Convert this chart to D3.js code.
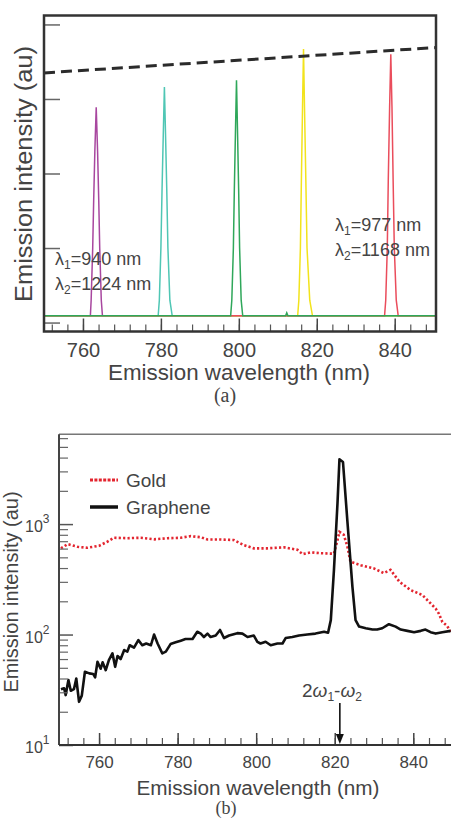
<!DOCTYPE html>
<html>
<head>
<meta charset="utf-8">
<script src="https://cdn.jsdelivr.net/npm/d3@7"></script>
<style>
  body { margin: 0; background: #fff; }
  text { font-family: "Liberation Sans", Arial, sans-serif; fill: #444; }
</style>
</head>
<body>
<div id="chart"></div>
<script>
// ---------- panel (a) data: [wavelength nm, intensity au] ----------
const aPurple = [[750, 0.09], [761.9, 0.09], [762.1, 0.3], [762.5, 1.0], [762.75, 1.64], [763.05, 2.3], [763.4, 2.89],
  [763.75, 2.3], [764.05, 1.64], [764.3, 1.0], [764.7, 0.3], [765.0, 0.09], [850.6, 0.09]];
const aTeal = [[750, 0.09], [779.3, 0.09], [779.6, 0.3], [780.0, 1.0], [780.3, 1.8], [780.6, 2.5], [780.9, 3.16],
  [781.2, 2.5], [781.5, 1.8], [781.8, 1.0], [782.3, 0.3], [782.9, 0.09], [850.6, 0.09]];
const aYellow = [[750, 0.09], [815.1, 0.09], [815.4, 0.3], [815.8, 1.0], [816.05, 1.9], [816.35, 2.9], [816.6, 3.67],
  [816.85, 2.9], [817.2, 1.9], [817.5, 1.0], [818.2, 0.3], [818.9, 0.09], [850.6, 0.09]];
const aRed = [[750, 0.09], [837.4, 0.09], [837.7, 0.3], [838.1, 1.0], [838.35, 1.9], [838.7, 2.9], [839.0, 3.6],
  [839.3, 2.9], [839.6, 1.9], [839.9, 1.0], [840.4, 0.3], [840.9, 0.09], [850.6, 0.09]];
const aGreen = [[750, 0.09], [797.9, 0.09], [798.2, 0.3], [798.6, 1.0], [798.85, 1.8], [799.15, 2.6], [799.4, 3.25],
  [799.65, 2.6], [799.95, 1.8], [800.2, 1.0], [800.6, 0.3], [801.0, 0.09], [812.0, 0.09], [812.3, 0.13],
  [812.6, 0.09], [850.6, 0.09]];
const aEnvelope = [[750, 3.35], [850.6, 3.69]];
const aXTicks = [760, 780, 800, 820, 840];
const aYTicks = [0, 1, 2, 3, 4];

// ---------- panel (b) data ----------
const bGraphene = [[750.3, 31.9], [751.1, 32.6], [751.5, 28.3], [752.2, 38.7], [752.8, 31], [753.6, 32], [754.2, 40],
  [754.9, 24.6], [755.6, 28], [756.4, 46], [757.5, 44.5], [758.5, 44], [759, 41], [759.6, 56.7], [760.4, 49],
  [760.9, 56], [761.7, 47.6], [762.5, 58.7], [763.4, 67.6], [764.1, 51], [764.7, 64], [765.5, 60], [766.4, 72.4],
  [767.2, 70], [767.8, 80], [768.9, 76], [770, 89], [771, 80], [772, 83], [773.2, 80], [774, 100], [774.9, 83],
  [776.1, 67.6], [777, 70], [778.2, 82], [779.5, 85], [780.8, 88], [782, 91], [783.8, 91], [785, 106], [785.9, 102],
  [786.7, 95], [787.6, 102], [788.4, 95], [789.7, 98], [790.8, 110], [791.8, 93], [793.1, 98], [795.2, 103],
  [796.5, 102], [797.8, 95], [799.4, 98], [800.3, 86], [801.1, 83], [802.4, 86], [803.7, 80], [805.4, 83],
  [806.7, 83], [807.5, 93], [809.2, 95], [810.9, 98], [813, 100], [815.1, 102], [817.3, 106], [818.3, 104],
  [819, 135], [819.8, 384], [820.7, 1540], [821.2, 3850], [822.1, 3650], [823.2, 1087], [824.5, 271], [825.3, 135],
  [826.2, 118], [827.9, 114], [829.6, 111], [830.8, 111], [832.1, 114], [833.8, 124], [835.5, 118], [836.8, 111],
  [838.5, 108], [840.2, 105], [841.9, 108], [843.1, 111], [844.4, 105], [845.7, 102], [847.4, 105], [849.5, 108]];
const bGold = [[750.3, 603], [752, 659], [754.5, 623], [757, 610], [760, 636], [762.1, 692], [763.8, 752],
  [767.2, 745], [770.6, 752], [774, 728], [777.4, 745], [780.8, 752], [783.3, 778], [785.9, 760], [787.6, 725],
  [791, 725], [794.3, 718], [796.9, 645], [799.4, 603], [802.8, 603], [807.1, 616], [810.5, 585], [811.8, 535],
  [813.9, 555], [816.4, 545], [819, 540], [819.8, 540], [820.7, 716], [821.2, 851], [822.3, 800], [823.2, 630],
  [824, 456], [826.6, 425], [830, 396], [832.5, 360], [834.2, 385], [836.5, 300], [839.3, 253], [842.3, 228],
  [844, 198], [845.7, 172], [846.5, 155], [847.4, 130], [848.6, 120], [849.5, 106]];
const bXTicks = [760, 780, 800, 820, 840];
const bYMajor = [10, 100, 1000];
const bYMinor = [20, 30, 40, 50, 60, 70, 80, 90, 200, 300, 400, 500, 600, 700, 800, 900, 2000, 3000, 4000, 5000, 6000];
const bMarker = 821.3;

const minorX = d3.range(752, 851, 4);

const svg = d3.select("#chart").append("svg")
  .attr("width", 451).attr("height", 820);

// ================= panel (a) =================
const xa = d3.scaleLinear().domain([750, 850.6]).range([44, 436]);
const ya = d3.scaleLinear().domain([-0.12, 4.12]).range([331.5, 15.5]);

const ga = svg.append("g");
const lineA = d3.line().x(d => xa(d[0])).y(d => ya(d[1]));

const aSeries = [
  { data: aPurple, color: "#a8479f" },
  { data: aTeal, color: "#4fc6b4" },
  { data: aYellow, color: "#f2e31c" },
  { data: aRed, color: "#ea4d5c" },
  { data: aGreen, color: "#2fa75a" }
];
aSeries.forEach(s => {
  ga.append("path").datum(s.data).attr("d", lineA)
    .attr("fill", "none").attr("stroke", s.color).attr("stroke-width", 1.5);
});

ga.append("path").datum(aEnvelope).attr("d", lineA)
  .attr("fill", "none").attr("stroke", "#2b2b2b").attr("stroke-width", 3)
  .attr("stroke-dasharray", "11,6");

// bottom ticks (inward)
ga.append("g").attr("transform", "translate(0,331.5)")
  .call(d3.axisBottom(xa).tickValues(minorX).tickSize(-7).tickFormat(""))
  .call(g => g.select(".domain").remove())
  .call(g => g.selectAll("line").attr("stroke", "#555").attr("stroke-width", 1.2));
ga.append("g").attr("transform", "translate(0,331.5)")
  .call(d3.axisBottom(xa).tickValues(aXTicks).tickSize(-13))
  .call(g => g.select(".domain").remove())
  .call(g => g.selectAll("line").attr("stroke", "#444").attr("stroke-width", 1.5))
  .call(g => g.selectAll("text").attr("y", 25).attr("dy", 0).attr("font-size", 20)
    .style("font-family", "Liberation Sans, Arial, sans-serif").attr("fill", "#444"));

// left ticks (inward, no labels)
ga.append("g").attr("transform", "translate(44,0)")
  .call(d3.axisLeft(ya).tickValues(aYTicks).tickSize(-16).tickFormat(""))
  .call(g => g.select(".domain").remove())
  .call(g => g.selectAll("line").attr("stroke", "#666").attr("stroke-width", 1.5));

ga.append("rect").attr("x", 44).attr("y", 15.5).attr("width", 392).attr("height", 316)
  .attr("fill", "none").attr("stroke", "#333").attr("stroke-width", 2.5);

function lambdaLabel(g, x, y, sub, rest) {
  const t = g.append("text").attr("x", x).attr("y", y).attr("font-size", 18).attr("fill", "#555");
  t.append("tspan").text("λ");
  t.append("tspan").attr("font-size", 12).attr("dy", 4).text(sub);
  t.append("tspan").attr("dy", -4).text(rest);
}
lambdaLabel(ga, 55, 265, "1", "=940 nm");
lambdaLabel(ga, 55, 290, "2", "=1224 nm");
lambdaLabel(ga, 335, 231, "1", "=977 nm");
lambdaLabel(ga, 335, 256, "2", "=1168 nm");

ga.append("text").attr("x", 239).attr("y", 380).attr("text-anchor", "middle")
  .attr("font-size", 22).attr("textLength", 262).attr("lengthAdjust", "spacingAndGlyphs")
  .text("Emission wavelength (nm)");
ga.append("text").attr("transform", "translate(32,174) rotate(-90)").attr("text-anchor", "middle")
  .attr("font-size", 23).attr("textLength", 256).attr("lengthAdjust", "spacingAndGlyphs")
  .attr("fill", "#555").text("Emission intensity (au)");
ga.append("text").attr("x", 225).attr("y", 402).attr("text-anchor", "middle")
  .attr("font-size", 20).style("font-family", "Liberation Serif, serif").text("(a)");

// ================= panel (b) =================
const xb = d3.scaleLinear().domain([749.8, 849.6]).range([59, 451]);
const yb = d3.scaleLog().domain([10, 6500]).range([745, 434.3]);
const gb = svg.append("g");
const lineB = d3.line().x(d => xb(d[0])).y(d => yb(d[1]));

gb.append("path").datum(bGold).attr("d", lineB)
  .attr("fill", "none").attr("stroke", "#e3252f").attr("stroke-width", 2.6)
  .attr("stroke-dasharray", "2.2,2.2");
gb.append("path").datum(bGraphene).attr("d", lineB)
  .attr("fill", "none").attr("stroke", "#111").attr("stroke-width", 2.6)
  .attr("stroke-linejoin", "round");

// axes
gb.append("g").attr("transform", "translate(0,745)")
  .call(d3.axisBottom(xb).tickValues(minorX).tickSize(-7).tickFormat(""))
  .call(g => g.select(".domain").remove())
  .call(g => g.selectAll("line").attr("stroke", "#555").attr("stroke-width", 1.2));
gb.append("g").attr("transform", "translate(0,745)")
  .call(d3.axisBottom(xb).tickValues(bXTicks).tickSize(-12))
  .call(g => g.select(".domain").remove())
  .call(g => g.selectAll("line").attr("stroke", "#444").attr("stroke-width", 1.5))
  .call(g => g.selectAll("text").attr("y", 23).attr("dy", 0).attr("font-size", 17)
    .style("font-family", "Liberation Sans, Arial, sans-serif").attr("fill", "#444"));

gb.append("g").attr("transform", "translate(59,0)")
  .call(d3.axisLeft(yb).tickValues(bYMinor).tickSize(-9).tickFormat(""))
  .call(g => g.select(".domain").remove())
  .call(g => g.selectAll("line").attr("stroke", "#666").attr("stroke-width", 1.2));
gb.append("g").attr("transform", "translate(59,0)")
  .call(d3.axisLeft(yb).tickValues(bYMajor).tickSize(-14).tickFormat(""))
  .call(g => g.select(".domain").remove())
  .call(g => g.selectAll("line").attr("stroke", "#555").attr("stroke-width", 1.5));

bYMajor.forEach(v => {
  const t = gb.append("text").attr("x", 25).attr("y", yb(v) + 8).attr("font-size", 16).attr("fill", "#444");
  t.append("tspan").text("10");
  t.append("tspan").attr("font-size", 12).attr("dy", -9).text(Math.round(Math.log10(v)));
});

gb.append("line").attr("x1", 59).attr("x2", 451).attr("y1", 434.3).attr("y2", 434.3)
  .attr("stroke", "#777").attr("stroke-width", 1.5);
gb.append("line").attr("x1", 59).attr("x2", 59).attr("y1", 434.3).attr("y2", 745)
  .attr("stroke", "#444").attr("stroke-width", 2);
gb.append("line").attr("x1", 59).attr("x2", 451).attr("y1", 745).attr("y2", 745)
  .attr("stroke", "#333").attr("stroke-width", 2);

// legend
gb.append("line").attr("x1", 90).attr("x2", 118).attr("y1", 480).attr("y2", 480)
  .attr("stroke", "#e3252f").attr("stroke-width", 3).attr("stroke-dasharray", "3,1.4");
gb.append("text").attr("x", 126).attr("y", 487).attr("font-size", 19).text("Gold");
gb.append("line").attr("x1", 90).attr("x2", 118).attr("y1", 507).attr("y2", 507)
  .attr("stroke", "#111").attr("stroke-width", 3.5);
gb.append("text").attr("x", 126).attr("y", 514).attr("font-size", 19).text("Graphene");

// annotation arrow
const ax = xb(bMarker);
gb.append("line").attr("x1", ax).attr("x2", ax).attr("y1", 703).attr("y2", 736)
  .attr("stroke", "#111").attr("stroke-width", 1.6);
gb.append("path").attr("d", `M${ax - 4},${734} L${ax + 4},${734} L${ax},${744} Z`).attr("fill", "#111");
const an = gb.append("text").attr("x", 302).attr("y", 697).attr("font-size", 19).attr("fill", "#444");
an.append("tspan").text("2");
an.append("tspan").attr("font-style", "italic").text("ω");
an.append("tspan").attr("font-size", 12).attr("dy", 4).text("1");
an.append("tspan").attr("dy", -4).text("-");
an.append("tspan").attr("font-style", "italic").text("ω");
an.append("tspan").attr("font-size", 12).attr("dy", 4).text("2");

gb.append("text").attr("x", 258).attr("y", 795).attr("text-anchor", "middle")
  .attr("font-size", 20).attr("textLength", 243).attr("lengthAdjust", "spacingAndGlyphs")
  .text("Emission wavelength (nm)");
gb.append("text").attr("transform", "translate(18,592) rotate(-90)").attr("text-anchor", "middle")
  .attr("font-size", 20).text("Emission intensity (au)");
gb.append("text").attr("x", 226).attr("y", 814).attr("text-anchor", "middle")
  .attr("font-size", 18).style("font-family", "Liberation Serif, serif").text("(b)");
</script>
</body>
</html>
